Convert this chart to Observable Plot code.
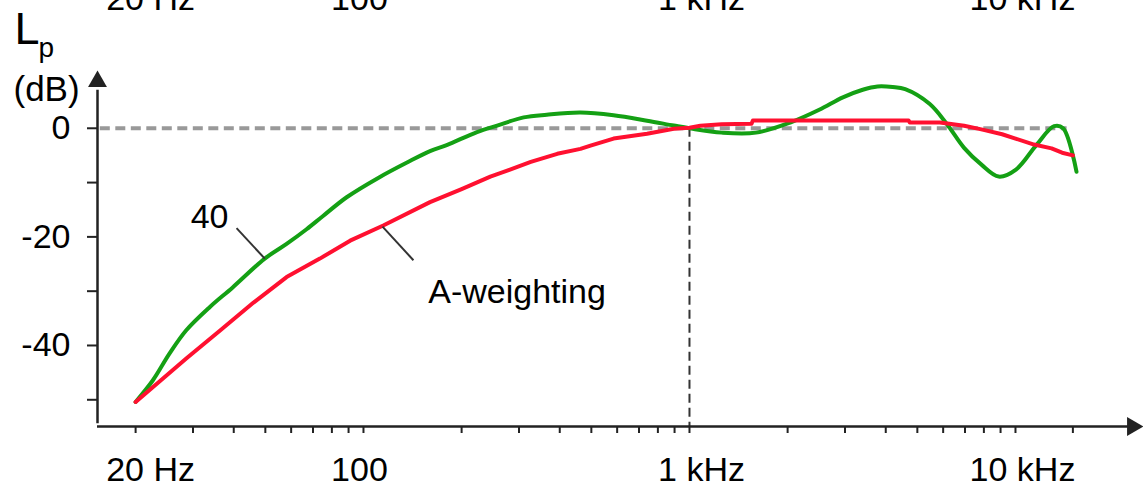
<!DOCTYPE html>
<html>
<head>
<meta charset="utf-8">
<script src="https://cdn.jsdelivr.net/npm/d3@7"></script>
<script src="https://cdn.jsdelivr.net/npm/@observablehq/plot@0.6"></script>
<style>
  html, body { margin: 0; padding: 0; background: #fff; }
  #chart svg { display: block; }
</style>
</head>
<body>
<div id="chart"></div>
<script>
// ---- data (frequency in Hz, level in dB) ----
const greenFreq = [20, 22.6, 25.4, 28.6, 33.8, 39.7, 49.8, 58.1, 66.9, 75, 88.8, 112, 136, 160, 180, 223, 257, 310, 365, 463, 585, 741, 895, 1000, 1255, 1600, 2046, 2500, 2955, 3400, 3773, 4200, 4588, 5448, 6157, 6956, 7864, 8882, 10035, 11620, 13134, 14000, 15386];
const greenDb   = [-50.4, -46.4, -41.5, -37.2, -32.9, -29.3, -24.0, -21.3, -18.6, -16.2, -12.7, -9.0, -6.3, -4.2, -3.1, -0.7, 0.5, 2.0, 2.5, 2.9, 2.4, 1.4, 0.5, 0.0, -0.8, -0.8, 1.1, 3.4, 5.7, 7.1, 7.7, 7.6, 7.2, 4.5, 0.8, -3.6, -6.7, -8.9, -7.6, -3.0, 0.4, 0.0, -8.0];

const redFreq = [20, 28.6, 36.4, 46, 58.1, 73.5, 91, 115, 160, 200, 245, 276, 326, 393, 463, 497, 585, 741, 895, 1000, 1080, 1255, 1550, 1565, 4700, 4740, 5860, 6960, 7860, 9100, 10000, 11400, 12900, 13900, 15000];
const redDb   = [-50.4, -42.4, -37.2, -32.1, -27.4, -24.0, -20.7, -17.9, -13.6, -11.2, -8.9, -7.8, -6.2, -4.7, -3.8, -3.2, -1.9, -1.0, -0.1, 0.1, 0.45, 0.75, 0.85, 1.45, 1.45, 1.05, 1.05, 0.45, -0.2, -1.1, -1.9, -3.0, -3.7, -4.5, -5.0];

// axis ticks and labels
const xMinorTicks = [20, 30, 40, 50, 60, 70, 80, 90, 100, 200, 300, 400, 500, 600, 700, 800, 900, 1000, 2000, 3000, 4000, 5000, 6000, 7000, 8000, 9000, 10000, 15000];
const xMajorTicks = [20, 100, 1000, 10000];
const xMajorLabels = ["20 Hz", "100", "1 kHz", "10 kHz"];
const yTicks = [0, -10, -20, -30, -40, -50];
const yLabelTicks = [0, -20, -40];
const yLabels = ["0", "-20", "-40"];

// annotations (data coordinates)
const annotTexts = ["40", "A-weighting"];
const annotFreq = [29.5, 158];
const annotDb = [-18.3, -32.1];
const leaderFreq1 = [40.8, 114.4];
const leaderDb1 = [-18.4, -18.1];
const leaderFreq2 = [49.8, 142.3];
const leaderDb2 = [-24.0, -24.3];

const refLevel = 0;       // dB reference (dashed grey)
const refFreq = 1000;     // 1 kHz reference (dashed black)

// scale extents
const xDomain = [15.28, 24700];
const yDomain = [-54.92, 10.64];
const refLineEnd = 14400;

// ---- layout / style ----
const font = "'Liberation Sans', Arial, Helvetica, sans-serif";
const axisColor = "#222";
const green = "#14a014";
const red = "#ff1030";
const labelSize = 34;
const xLabelDx = [15, -4, 12, 7];

const green_ = greenFreq.map((f, i) => ({f, db: greenDb[i]}));
const red_ = redFreq.map((f, i) => ({f, db: redDb[i]}));
const annots = annotTexts.map((t, i) => ({t, f: annotFreq[i], db: annotDb[i]}));
const leaders = leaderFreq1.map((f, i) => ({f1: f, d1: leaderDb1[i], f2: leaderFreq2[i], d2: leaderDb2[i]}));
const yLabelMap = new Map(yLabelTicks.map((t, i) => [t, yLabels[i]]));

const xLabelMarks = (anchor, dy) => xMajorTicks.map((t, i) =>
  Plot.text([t], {x: d => d, text: () => xMajorLabels[i], frameAnchor: anchor, dy, dx: xLabelDx[i],
                  lineAnchor: "bottom", textAnchor: "middle", fontSize: labelSize, fill: "#000"}));

const chart = Plot.plot({
  width: 1143,
  height: 488,
  marginLeft: 97,
  marginRight: 0,
  marginTop: 70,
  marginBottom: 62,
  style: {fontFamily: font, fontSize: labelSize + "px", color: "#000", background: "#fff", overflow: "hidden"},
  x: {type: "log", domain: xDomain, axis: null},
  y: {domain: yDomain, axis: null},
  marks: [
    // cut-off labels of the row above
    ...xLabelMarks("top", -61),
    // reference lines
    Plot.ruleY([refLevel], {x1: xDomain[0] * 1.02, x2: refLineEnd, stroke: "#999", strokeWidth: 4, strokeDasharray: "10,5.5"}),
    Plot.ruleX([refFreq], {y1: refLevel, y2: yDomain[0], stroke: "#333", strokeWidth: 2, strokeDasharray: "9,5"}),
    // axis lines and arrowheads
    Plot.ruleX([xDomain[0]], {y1: yDomain[0] + 0.5, y2: 7, stroke: axisColor, strokeWidth: 2.5}),
    Plot.ruleY([yDomain[0]], {x1: xDomain[0], x2: 23000, stroke: axisColor, strokeWidth: 2.5}),
    Plot.dot([0], {x: () => xDomain[0], y: () => yDomain[1], symbol: "triangle", r: 7, fill: axisColor, stroke: "none", dy: 11}),
    Plot.dot([0], {x: () => xDomain[1], y: () => yDomain[0], symbol: "triangle", r: 7, fill: axisColor, stroke: "none", rotate: 90, dx: -11}),
    // ticks
    Plot.axisX(xMinorTicks, {anchor: "bottom", tickSize: 7, tickFormat: () => "", stroke: axisColor, strokeWidth: 2}),
    ...xLabelMarks("bottom", 54),
    Plot.axisY(yTicks, {anchor: "left", tickSize: 10, tickPadding: 17, tickFormat: d => yLabelMap.get(d) ?? "", fontSize: labelSize, stroke: axisColor, strokeWidth: 2, fill: "#000"}),
    // y axis title
    Plot.text(["L"], {frameAnchor: "top-left", dx: -83, dy: -27, lineAnchor: "bottom", textAnchor: "start", fontSize: 45, fill: "#000"}),
    Plot.text(["p"], {frameAnchor: "top-left", dx: -59, dy: -14, lineAnchor: "bottom", textAnchor: "start", fontSize: 28, fill: "#000"}),
    Plot.text(["(dB)"], {frameAnchor: "top-left", dx: -84, dy: 30, lineAnchor: "bottom", textAnchor: "start", fontSize: 35, fill: "#000"}),
    // curves
    Plot.line(green_, {x: "f", y: "db", stroke: green, strokeWidth: 4, curve: "catmull-rom", strokeLinejoin: "round", strokeLinecap: "round"}),
    Plot.line(red_, {x: "f", y: "db", stroke: red, strokeWidth: 4, strokeLinejoin: "round", strokeLinecap: "round"}),
    // annotations
    Plot.link(leaders, {x1: "f1", y1: "d1", x2: "f2", y2: "d2", stroke: "#333", strokeWidth: 2}),
    Plot.text(annots, {x: "f", y: "db", text: "t", textAnchor: "start", lineAnchor: "bottom", fontSize: labelSize, fill: "#000"})
  ]
});
document.getElementById("chart").append(chart);
</script>
</body>
</html>
